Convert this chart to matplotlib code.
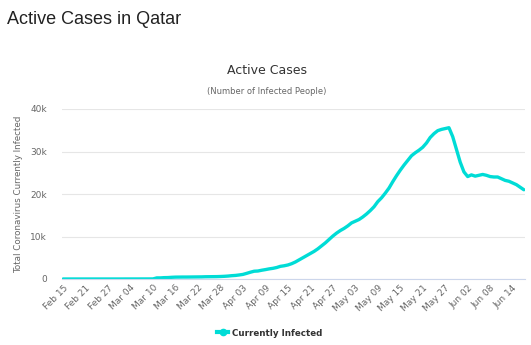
import matplotlib.pyplot as plt
from matplotlib.lines import Line2D
import numpy as np
import pandas as pd

plt.rcParams['font.family'] = ['DejaVu Sans']

start_date = "2020-02-15"
tick_labels = ["Feb 15", "Feb 21", "Feb 27", "Mar 04", "Mar 10", "Mar 16", "Mar 22",
               "Mar 28", "Apr 03", "Apr 09", "Apr 15", "Apr 21", "Apr 27", "May 03",
               "May 09", "May 15", "May 21", "May 27", "Jun 02", "Jun 08", "Jun 14"]

# active cases, one value per day from Feb 15 (thousands)
active_k = [
    0, 0, 0, 0, 0, 0, 0, 0, 0, 0, 0, 0, 0, 0,                     # Feb 15-28
    0.001, 0.001, 0.003, 0.007, 0.007, 0.008, 0.008, 0.011, 0.012, 0.015, 0.018,  # Feb 29-Mar 10
    0.26, 0.26, 0.32, 0.34, 0.40, 0.44, 0.45, 0.46, 0.46, 0.47, 0.48,
    0.49, 0.50, 0.53, 0.54, 0.55, 0.56, 0.59, 0.63, 0.69, 0.78,       # to Mar 31
    0.84, 0.95, 1.08, 1.33, 1.60, 1.83, 1.88, 2.06, 2.21, 2.38,
    2.51, 2.70, 2.98, 3.11, 3.30, 3.60, 4.00, 4.50, 5.00, 5.50,
    6.00, 6.50, 7.10, 7.80, 8.50, 9.30, 10.1, 10.8, 11.4, 11.9,       # to Apr 30
    12.5, 13.2, 13.6, 14.0, 14.6, 15.3, 16.1, 17.0, 18.2, 19.1,
    20.2, 21.4, 22.9, 24.3, 25.6, 26.8, 27.9, 29.0, 29.7, 30.3,
    31.0, 32.0, 33.3, 34.2, 34.9, 35.2, 35.4, 35.6, 33.5, 30.5,
    27.5,                                                             # to May 31
    25.2, 24.1, 24.5, 24.2, 24.4, 24.6, 24.4, 24.1, 24.0, 24.0,
    23.6, 23.2, 23.0, 22.6, 22.2, 21.6, 21.0,                         # to Jun 17
]

dates = pd.date_range(start_date, periods=len(active_k), freq="D")
active = np.array(active_k) * 1000
line_color = "#00dcd6"

fig = plt.figure(figsize=(5.31, 3.45), dpi=100)
ax = fig.add_axes([62 / 531, 1 - 279 / 345, 463 / 531, 170 / 345])

ax.plot(dates, active, color=line_color, lw=2.4, solid_capstyle="round",
        solid_joinstyle="round")

ax.set_ylim(0, 40000)
ax.set_yticks([0, 10000, 20000, 30000, 40000])
ax.set_yticklabels(["0", "10k", "20k", "30k", "40k"])
ax.set_xlim(dates[0] - pd.Timedelta(days=0.3), dates[-1] + pd.Timedelta(days=0.3))
tick_dates = pd.date_range(start_date, periods=len(tick_labels), freq="6D")
ax.set_xticks(tick_dates)
ax.set_xticklabels(tick_labels, rotation=45, ha="right", rotation_mode="anchor")

ax.grid(axis="y", color="#e6e6e6", lw=0.8)
ax.set_axisbelow(True)
for side in ["top", "right", "left"]:
    ax.spines[side].set_visible(False)
ax.spines["bottom"].set_color("#ccd6eb")
ax.tick_params(axis="y", length=0, labelsize=6.5, colors="#666666", pad=11)
ax.tick_params(axis="x", length=0, labelsize=6.5, colors="#666666", pad=3)

ax.set_ylabel("Total Coronavirus Currently Infected", fontsize=6.3, color="#666666", labelpad=5)

fig.text(7 / 531, 1 - 20 / 345, "Active Cases in Qatar", fontsize=13, color="#222222",
         va="center", ha="left", family="Liberation Sans")
fig.text(267 / 531, 1 - 70 / 345, "Active Cases", fontsize=9, color="#333333",
         va="center", ha="center")
fig.text(267 / 531, 1 - 91 / 345, "(Number of Infected People)", fontsize=6.0, color="#666666",
         va="center", ha="center")

handle = Line2D([], [], color=line_color, lw=3, marker="o", markersize=4.5)
leg = ax.legend([handle], ["Currently Infected"], loc="center",
                bbox_to_anchor=(270 / 531, 1 - 333 / 345),
                bbox_transform=fig.transFigure, frameon=False, handlelength=1.2,
                handletextpad=0.5, prop={"size": 6.3, "weight": "bold"})
for t in leg.get_texts():
    t.set_color("#333333")

fig.savefig("out.png", dpi=100)
